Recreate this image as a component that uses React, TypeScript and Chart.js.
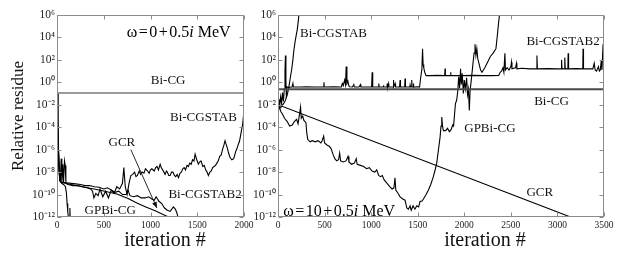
import React, { useEffect, useRef } from 'react';
import { Chart, registerables } from 'chart.js';
Chart.register(...registerables);

const FONT = "'Liberation Serif', 'Times New Roman', serif";

// ---- shared axis ticks ----
const yTickValues = [1e-12, 1e-10, 1e-8, 1e-6, 1e-4, 1e-2, 1e0, 1e2, 1e4, 1e6];
const yTickLabels = ['10⁻¹²', '10⁻¹⁰', '10⁻⁸', '10⁻⁶', '10⁻⁴', '10⁻²', '10⁰', '10²', '10⁴', '10⁶'];
const leftXTicks = [0, 500, 1000, 1500, 2000];
const rightXTicks = [0, 500, 1000, 1500, 2000, 2500, 3000, 3500];

// ---- left panel (omega = 0 + 0.5i MeV): [iteration, log10(relative residue)] ----
const leftBiCG: [number, number][] = [[0, -0.95], [2000, -0.95]];
const leftBiCGSTAB: [number, number][] = [
  [0, -1.0], [8, -3.5], [16, -6.0], [25, -8.2], [35, -8.8], [45, -6.8], [52, -8.9], [62, -7.3], [70, -8.9],
  [80, -7.0], [88, -7.4], [95, -9.0], [120, -9.1], [170, -9.2], [220, -9.2], [270, -9.3], [320, -9.4],
  [360, -9.5], [380, -9.7], [395, -10.3], [415, -9.9], [440, -10.1], [460, -9.5], [490, -10.2], [520, -9.7],
  [550, -10.3], [580, -9.6], [610, -9.9], [640, -9.3], [670, -9.5], [700, -9.0], [715, -7.6], [730, -9.3],
  [750, -10.0], [770, -9.0], [790, -8.3], [810, -8.2], [830, -8.0], [845, -8.4], [860, -8.3], [880, -7.9],
  [895, -8.2], [910, -8.0], [930, -8.1], [946, -7.7], [970, -7.9], [985, -8.1], [1000, -7.8], [1014, -7.7],
  [1040, -7.9], [1055, -7.6], [1070, -7.5], [1085, -7.8], [1103, -7.3], [1115, -7.6], [1130, -7.8],
  [1156, -8.2], [1170, -7.9], [1180, -8.0], [1195, -8.3], [1210, -8.3], [1225, -8.0], [1240, -8.0],
  [1255, -8.3], [1270, -8.4], [1285, -8.2], [1299, -8.5], [1315, -8.1], [1330, -8.0], [1345, -7.7],
  [1360, -7.6], [1375, -7.8], [1390, -7.4], [1405, -7.5], [1420, -7.2], [1435, -7.3], [1450, -6.9],
  [1465, -7.0], [1477, -6.4], [1495, -6.9], [1512, -7.3], [1525, -7.1], [1540, -7.0], [1560, -7.5],
  [1575, -7.4], [1590, -7.8], [1605, -8.0], [1619, -8.3], [1635, -8.0], [1650, -7.9], [1665, -7.6],
  [1680, -7.5], [1695, -7.4], [1710, -7.2], [1725, -7.0], [1740, -6.6], [1755, -6.5], [1770, -6.0],
  [1785, -5.6], [1797, -5.2], [1808, -5.5], [1820, -5.8], [1835, -6.3], [1851, -6.7], [1870, -6.9],
  [1890, -6.8], [1900, -6.5], [1910, -6.2], [1925, -5.9], [1940, -5.5], [1950, -5.3], [1960, -4.9],
  [1975, -4.2], [1985, -3.8], [1993, -3.1], [2000, -2.6],
];
const leftBiCGSTAB2: [number, number][] = [
  [0, -1.0], [10, -4.5], [20, -7.5], [30, -8.8], [50, -8.9], [100, -8.95], [150, -9.0], [200, -9.05],
  [250, -9.1], [300, -9.2], [350, -9.2], [400, -9.3], [450, -9.35], [500, -9.5], [540, -9.4], [580, -9.6],
  [620, -9.8], [660, -9.7], [700, -10.0], [740, -10.0], [760, -9.6], [780, -10.1], [820, -10.2],
  [860, -10.1], [900, -10.3], [943, -10.3], [980, -10.2], [1014, -10.4], [1040, -10.5], [1060, -10.2],
  [1090, -10.6], [1120, -10.8], [1150, -11.2], [1180, -11.4], [1210, -11.5], [1245, -11.1], [1265, -11.3],
  [1281, -11.6], [1300, -12.2],
];
const leftGCR: [number, number][] = [
  [0, -1.0], [12, -5.0], [25, -8.0], [40, -8.9], [150, -9.1], [300, -9.35], [450, -9.6], [640, -9.95],
  [760, -10.35], [854, -10.75], [950, -11.1], [1050, -11.45], [1192, -12.0],
];
const leftGPBiCG: [number, number][] = [
  [0, -1.0], [8, -4.0], [18, -7.0], [30, -8.7], [50, -9.0], [70, -9.1], [90, -9.3], [100, -9.8],
  [108, -10.8], [115, -11.5], [124, -12.2], [132, -12.5], [138, -11.2], [143, -12.5],
];

// ---- right panel (omega = 10 + 0.5i MeV): [iteration, log10(relative residue)] ----
const rightBiCG: [number, number][] = [[0, -0.62], [3500, -0.62]];
const rightGCR: [number, number][] = [[0, -2.0], [3140, -12.0]];
const rightBiCGSTAB: [number, number][] = [
  [0, -2.0], [20, -2.3], [40, -2.1], [60, -1.9], [80, -1.6], [100, -1.1], [115, -0.5], [130, 0.3],
  [146, 1.1], [160, 2.0], [171, 2.9], [185, 3.7], [200, 4.4], [207, 4.7], [218, 5.5], [228, 6.3],
];
const rightBiCGSTAB2: [number, number][] = [
  [0, -2.0], [10, -1.5], [18, -2.1], [28, -1.3], [38, -1.9], [48, -0.9], [58, -1.7], [68, -0.6], [75, 1.0],
  [80, 2.4], [85, 0.2], [90, -1.4], [97, -0.4], [110, -0.45], [150, -0.42], [160, -0.1], [165, -0.42],
  [250, -0.42], [300, -0.4], [400, -0.42], [490, -0.42], [493, 0.0], [497, -0.42], [600, -0.4],
  [680, -0.42], [690, -0.1], [700, -0.3], [715, 0.2], [725, -0.2], [732, 1.4], [740, -0.1], [750, 0.1],
  [760, -0.3], [770, -0.4], [800, -0.42], [814, -0.2], [820, -0.42], [870, -0.42], [885, -0.2],
  [890, -0.42], [1005, -0.42], [1011, 0.9], [1017, -0.42], [1078, -0.42], [1082, -0.1], [1086, -0.42],
  [1130, -0.42], [1132, -0.25], [1136, -0.42], [1170, -0.42], [1173, -0.1], [1177, -0.42], [1185, -0.1],
  [1190, -0.42], [1236, -0.42], [1239, 0.2], [1243, -0.42], [1257, -0.1], [1262, -0.42], [1305, -0.42],
  [1311, 0.2], [1315, -0.42], [1360, -0.42], [1364, 0.35], [1368, -0.42], [1415, -0.42], [1418, -0.25],
  [1422, -0.42], [1432, -0.42], [1436, 0.2], [1440, -0.42], [1450, -0.42], [1453, -0.1], [1458, -0.42],
  [1500, -0.4], [1520, -0.42], [1530, 0.3], [1545, 1.2], [1552, 3.0], [1558, 1.6], [1565, 1.3],
  [1575, 0.9], [1590, 0.6], [1650, 0.6], [1700, 0.62], [1790, 0.6], [1793, 1.24], [1797, 0.6],
  [1850, 0.6], [1853, 0.9], [1857, 0.6], [1900, 0.6], [2000, 0.6], [2100, 0.62], [2200, 0.6],
  [2300, 0.6], [2370, 0.62], [2385, 0.9], [2400, 1.0], [2415, 1.3], [2425, 0.9], [2436, 2.6],
  [2442, 1.1], [2460, 1.3], [2480, 1.1], [2500, 1.4], [2507, 1.8], [2512, 1.2], [2550, 1.3], [2560, 1.7],
  [2565, 1.2], [2620, 1.25], [2700, 1.2], [2776, 1.2], [2780, 2.4], [2785, 1.2], [2900, 1.22],
  [3000, 1.2], [3040, 1.2], [3044, 2.0], [3050, 1.2], [3075, 1.2], [3079, 2.2], [3084, 1.2], [3112, 1.2],
  [3115, 2.6], [3120, 1.2], [3200, 1.22], [3272, 1.2], [3275, 3.0], [3280, 1.2], [3380, 1.2],
  [3395, 1.7], [3405, 1.1], [3420, 1.0], [3440, 1.4], [3450, 1.0], [3460, 1.1], [3470, 1.9], [3478, 1.1],
  [3490, 3.4], [3500, 1.2],
];
const rightGPBiCG: [number, number][] = [
  [0, -2.0], [15, -2.2], [30, -2.6], [46, -2.8], [70, -3.2], [99, -3.5], [125, -3.9], [153, -3.8],
  [175, -3.5], [200, -3.3], [215, -3.7], [230, -2.9], [242, -2.2], [250, -3.2], [265, -3.0], [278, -3.4],
  [300, -3.6], [310, -4.6], [320, -5.1], [345, -5.3], [367, -5.2], [400, -5.3], [430, -5.2], [460, -5.4],
  [474, -5.2], [490, -4.8], [500, -5.4], [529, -5.6], [550, -5.7], [570, -5.9], [590, -6.4], [610, -6.8],
  [630, -7.0], [650, -6.9], [662, -6.3], [672, -7.0], [700, -7.1], [730, -7.0], [752, -6.6], [762, -7.1],
  [790, -7.3], [820, -7.2], [840, -6.8], [850, -7.3], [885, -7.4], [920, -7.5], [950, -7.7], [980, -7.6],
  [1010, -7.9], [1040, -8.0], [1060, -7.8], [1081, -8.3], [1100, -8.4], [1120, -8.3], [1140, -8.7],
  [1171, -9.0], [1200, -9.3], [1225, -9.5], [1245, -9.4], [1256, -8.5], [1265, -9.6], [1290, -9.9],
  [1311, -10.2], [1340, -10.4], [1364, -10.5], [1383, -11.2], [1400, -11.3], [1418, -11.0], [1430, -11.4],
  [1450, -11.0], [1470, -11.3], [1490, -11.0], [1510, -11.1], [1525, -10.6], [1545, -10.6], [1561, -10.4],
  [1590, -10.0], [1615, -9.6], [1640, -9.1], [1668, -8.4], [1690, -7.7], [1704, -7.2], [1722, -6.05],
  [1740, -4.9], [1750, -3.9], [1758, -3.1], [1768, -4.0], [1776, -4.3], [1800, -4.3], [1820, -4.1],
  [1840, -4.4], [1860, -4.2], [1875, -3.8], [1885, -3.9], [1895, -2.9], [1905, -1.9], [1918, -1.6],
  [1930, -0.8], [1940, 0.5], [1950, -0.5], [1960, 1.2], [1968, -0.2], [1978, 0.8], [1990, -1.0],
  [2000, 0.2], [2012, -0.6], [2025, 0.4], [2035, -1.1], [2045, -0.6], [2054, -2.5], [2062, -0.8],
  [2075, 0.2], [2090, 1.4], [2105, 2.6], [2115, 3.4], [2125, 2.4], [2135, 3.0], [2145, 2.1], [2160, 1.6],
  [2175, 1.1], [2190, 0.9], [2220, 1.3], [2250, 1.8], [2280, 2.3], [2310, 2.6], [2340, 3.0], [2355, 4.2],
  [2368, 5.3], [2385, 6.5],
];

// ---- annotation texts (positions in data coordinates: iteration, log10 residue) ----
type Note = { text: string; x: number; e: number };
const leftNotes: Note[] = [
  { text: 'Bi-CG', x: 1189, e: 0.18 },
  { text: 'Bi-CGSTAB', x: 1566, e: -3.1 },
  { text: 'GCR', x: 694, e: -5.34 },
  { text: 'Bi-CGSTAB2', x: 1584, e: -9.96 },
  { text: 'GPBi-CG', x: 569, e: -11.46 },
];
const rightNotes: Note[] = [
  { text: 'Bi-CGSTAB', x: 596, e: 4.36 },
  { text: 'Bi-CGSTAB2', x: 3061, e: 3.6 },
  { text: 'Bi-CG', x: 2936, e: -1.74 },
  { text: 'GPBi-CG', x: 2275, e: -4.12 },
  { text: 'GCR', x: 2811, e: -9.78 },
];
const leftOmega = { re: '0', x: 1301, e: 4.39 };
const rightOmega = { re: '10', x: 657, e: -11.56 };
const leftArrow = { x1: 790, e1: -6.0, x2: 1068, e2: -11.2 };

const pts = (a: [number, number][]) => a.map(([x, e]) => ({ x, y: Math.pow(10, e) }));

function line(label: string, data: [number, number][], color = '#000', width = 1.1) {
  return {
    label,
    data: pts(data),
    borderColor: color,
    backgroundColor: color,
    borderWidth: width,
    pointRadius: 0,
    tension: 0,
    fill: false,
  };
}

type PanelCfg = {
  canvasLeft: number;
  canvasWidth: number;
  yAxisWidth: number;
  padRight: number;
  xMax: number;
  xTicks: number[];
  yTitle: boolean;
  datasets: any[];
  notes: Note[];
  omega: { re: string; x: number; e: number };
  arrow?: { x1: number; e1: number; x2: number; e2: number };
  xTitleCenter: number;
};

function decorPlugin(cfg: PanelCfg) {
  return {
    id: 'decor',
    afterDatasetsDraw(chart: any) {
      const { ctx, chartArea } = chart;
      const xs = chart.scales.x;
      const ys = chart.scales.y;
      const L = Math.round(chartArea.left) + 0.5;
      const R = Math.round(chartArea.right) - 0.5;
      const T = Math.round(chartArea.top) + 0.5;
      const B = Math.round(chartArea.bottom) - 0.5;
      ctx.save();
      // frame
      ctx.strokeStyle = '#8c8c8c';
      ctx.lineWidth = 1;
      ctx.strokeRect(L, T, R - L, B - T);
      // inward ticks
      ctx.beginPath();
      xs.ticks.forEach((t: any) => {
        const px = Math.round(xs.getPixelForValue(t.value)) + 0.5;
        ctx.moveTo(px, B); ctx.lineTo(px, B - 4);
        ctx.moveTo(px, T); ctx.lineTo(px, T + 4);
      });
      ys.ticks.forEach((t: any) => {
        const py = Math.round(ys.getPixelForValue(t.value)) + 0.5;
        ctx.moveTo(L, py); ctx.lineTo(L + 4, py);
        ctx.moveTo(R, py); ctx.lineTo(R - 4, py);
      });
      ctx.stroke();

      // curve labels
      ctx.fillStyle = '#111';
      ctx.font = `13px ${FONT}`;
      ctx.textAlign = 'center';
      ctx.textBaseline = 'middle';
      cfg.notes.forEach((n) => {
        ctx.fillText(n.text, xs.getPixelForValue(n.x), ys.getPixelForValue(Math.pow(10, n.e)));
      });

      // arrow
      if (cfg.arrow) {
        const a = cfg.arrow;
        const x1 = xs.getPixelForValue(a.x1), y1 = ys.getPixelForValue(Math.pow(10, a.e1));
        const x2 = xs.getPixelForValue(a.x2), y2 = ys.getPixelForValue(Math.pow(10, a.e2));
        ctx.strokeStyle = '#111';
        ctx.lineWidth = 0.9;
        ctx.beginPath(); ctx.moveTo(x1, y1); ctx.lineTo(x2, y2); ctx.stroke();
        const ang = Math.atan2(y2 - y1, x2 - x1);
        const hl = 6, hw = 2.5;
        ctx.beginPath();
        ctx.moveTo(x2, y2);
        ctx.lineTo(x2 - hl * Math.cos(ang) + hw * Math.sin(ang), y2 - hl * Math.sin(ang) - hw * Math.cos(ang));
        ctx.lineTo(x2 - hl * Math.cos(ang) - hw * Math.sin(ang), y2 - hl * Math.sin(ang) + hw * Math.cos(ang));
        ctx.closePath();
        ctx.fill();
      }

      // omega label: "ω = re + 0.5i MeV"
      const parts: [string, boolean, number][] = [
        ['ω', false, 1.5], ['=', false, 1.5], [cfg.omega.re, false, 1.5], ['+', false, 1.5],
        ['0.5', false, 0], ['i', true, 0], [' MeV', false, 0],
      ];
      const fs = 16;
      let total = 0;
      parts.forEach(([t, it, g]) => {
        ctx.font = `${it ? 'italic ' : ''}${fs}px ${FONT}`;
        total += ctx.measureText(t).width + g;
      });
      let cx = xs.getPixelForValue(cfg.omega.x) - total / 2;
      const cy = ys.getPixelForValue(Math.pow(10, cfg.omega.e));
      ctx.textAlign = 'left';
      ctx.fillStyle = '#000';
      parts.forEach(([t, it, g]) => {
        ctx.font = `${it ? 'italic ' : ''}${fs}px ${FONT}`;
        ctx.fillText(t, cx, cy);
        cx += ctx.measureText(t).width + g;
      });

      // x axis title
      ctx.font = `20px ${FONT}`;
      ctx.textAlign = 'center';
      ctx.textBaseline = 'alphabetic';
      ctx.fillStyle = '#111';
      ctx.fillText('iteration #', cfg.xTitleCenter - cfg.canvasLeft, 246);
      ctx.restore();
    },
  };
}

function buildConfig(cfg: PanelCfg): any {
  return {
    type: 'line',
    data: { datasets: cfg.datasets },
    options: {
      responsive: false,
      animation: false,
      devicePixelRatio: 1,
      layout: { padding: { left: 0, top: 15, right: cfg.padRight, bottom: 0 } },
      plugins: { legend: { display: false }, tooltip: { enabled: false } },
      scales: {
        x: {
          type: 'linear',
          min: 0,
          max: cfg.xMax,
          grid: { display: false, drawTicks: false },
          border: { display: false },
          afterBuildTicks: (s: any) => { s.ticks = cfg.xTicks.map((v) => ({ value: v })); },
          afterFit: (s: any) => { s.height = 38; },
          ticks: {
            autoSkip: false,
            maxRotation: 0,
            padding: 3,
            color: '#222',
            font: { family: FONT, size: 9.5 },
            callback: (v: any) => String(v),
          },
        },
        y: {
          type: 'logarithmic',
          min: 1e-12,
          max: 1e6,
          grid: { display: false, drawTicks: false },
          border: { display: false },
          afterBuildTicks: (s: any) => { s.ticks = yTickValues.map((v) => ({ value: v })); },
          afterFit: (s: any) => { s.width = cfg.yAxisWidth; },
          title: {
            display: cfg.yTitle,
            text: 'Relative residue',
            color: '#111',
            font: { family: FONT, size: 17 },
            padding: { top: 8, bottom: 0 },
          },
          ticks: {
            autoSkip: false,
            padding: 2,
            color: '#222',
            font: { family: FONT, size: 11.5 },
            callback: (_v: any, i: number) => yTickLabels[i],
          },
        },
      },
    },
    plugins: [decorPlugin(cfg)],
  };
}

const leftCfg: PanelCfg = {
  canvasLeft: 0,
  canvasWidth: 262,
  yAxisWidth: 57,
  padRight: 18,
  xMax: 2000,
  xTicks: leftXTicks,
  yTitle: true,
  datasets: [
    line('Bi-CG', leftBiCG, '#7a7a7a', 1.6),
    line('GCR', leftGCR),
    line('GPBi-CG', leftGPBiCG),
    line('Bi-CGSTAB2', leftBiCGSTAB2),
    line('Bi-CGSTAB', leftBiCGSTAB),
  ],
  notes: leftNotes,
  omega: leftOmega,
  arrow: leftArrow,
  xTitleCenter: 165,
};

const rightCfg: PanelCfg = {
  canvasLeft: 250,
  canvasWidth: 370,
  yAxisWidth: 28,
  padRight: 16,
  xMax: 3500,
  xTicks: rightXTicks,
  yTitle: false,
  datasets: [
    line('Bi-CG', rightBiCG, '#4a4a4a', 2),
    line('GCR', rightGCR),
    line('GPBi-CG', rightGPBiCG),
    line('Bi-CGSTAB2', rightBiCGSTAB2),
    line('Bi-CGSTAB', rightBiCGSTAB),
  ],
  notes: rightNotes,
  omega: rightOmega,
  xTitleCenter: 485,
};

function Panel({ cfg }: { cfg: PanelCfg }) {
  const ref = useRef<HTMLCanvasElement>(null);
  useEffect(() => {
    const chart = new Chart(ref.current as HTMLCanvasElement, buildConfig(cfg));
    return () => chart.destroy();
  }, []);
  return (
    <canvas
      ref={ref}
      width={cfg.canvasWidth}
      height={255}
      style={{ position: 'absolute', left: cfg.canvasLeft, top: 0, width: cfg.canvasWidth, height: 255 }}
    />
  );
}

export default function App() {
  return (
    <div style={{ position: 'absolute', left: 0, top: 0, width: 620, height: 255, background: '#fff', overflow: 'hidden' }}>
      <Panel cfg={leftCfg} />
      <Panel cfg={rightCfg} />
    </div>
  );
}
